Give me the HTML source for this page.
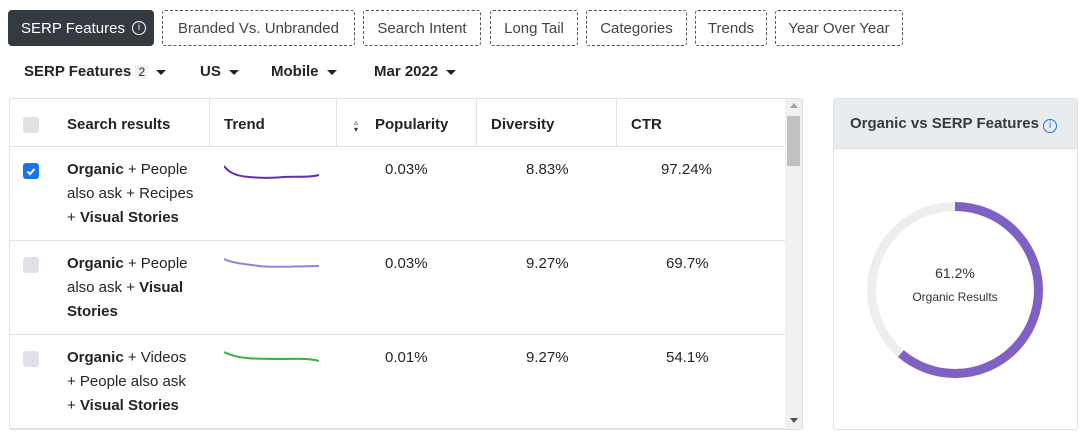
<!DOCTYPE html>
<html><head><style>
*{box-sizing:border-box;margin:0;padding:0}
body{width:1086px;height:439px;background:#fff;font-family:"Liberation Sans",sans-serif;color:#212529;position:relative;overflow:hidden}
.a{position:absolute}
.tab{position:absolute;top:10px;height:36px;border:1px dashed #555;border-radius:3px;font-size:15px;color:#444;display:flex;align-items:center;justify-content:center}
.dd{position:absolute;top:63px;font-size:15px;font-weight:bold;color:#212529}
.car{display:inline-block;border-left:5px solid transparent;border-right:5px solid transparent;border-top:5px solid #212529;vertical-align:middle;margin-left:8px}
.th{position:absolute;top:116px;font-size:15px;font-weight:bold}
.cell{position:absolute;font-size:15px;line-height:24px}
.vl{position:absolute;top:99px;height:48px;width:1px;background:#dee2e6}
.hl{position:absolute;left:10px;width:775px;height:1px;background:#dee2e6}
.cb{position:absolute;left:23px;width:16px;height:16px;border-radius:3px;background:#dee2e6}
</style></head><body>
<div class="a" style="left:8px;top:10px;width:146px;height:36px;background:#343a40;border-radius:4px;color:#fff;font-size:15px;display:flex;align-items:center;padding-left:13px">SERP Features <span style="display:inline-block;width:14px;height:14px;border:1px solid #fff;border-radius:50%;font-size:10px;text-align:center;line-height:12px;margin-left:7px">i</span></div>
<div class="tab" style="left:162px;width:193px">Branded Vs. Unbranded</div>
<div class="tab" style="left:363px;width:118px">Search Intent</div>
<div class="tab" style="left:490px;width:88px">Long Tail</div>
<div class="tab" style="left:586px;width:101px">Categories</div>
<div class="tab" style="left:695px;width:72px">Trends</div>
<div class="tab" style="left:775px;width:128px">Year Over Year</div>
<div class="dd" style="left:24px">SERP Features <span style="font-weight:normal;font-size:12px;background:#f1f3f5;padding:0 3px">2</span><span class="car"></span></div>
<div class="dd" style="left:200px">US<span class="car"></span></div>
<div class="dd" style="left:271px">Mobile<span class="car"></span></div>
<div class="dd" style="left:374px">Mar 2022<span class="car"></span></div>

<div class="a" style="left:9px;top:98px;width:794px;height:332px;border:1px solid #dee2e6;border-radius:3px"></div>
<div class="a" style="left:785px;top:99px;width:17px;height:330px;background:#f1f1f1"></div>
<div class="a" style="left:787px;top:116px;width:13px;height:50px;background:#c1c1c1"></div>
<div class="a" style="left:790px;top:103px;border-left:4px solid transparent;border-right:4px solid transparent;border-bottom:5px solid #a3a3a3"></div>
<div class="a" style="left:790px;top:418px;border-left:4px solid transparent;border-right:4px solid transparent;border-top:5px solid #505050"></div>
<div class="cb" style="top:117px"></div>
<div class="th" style="left:67px">Search results</div>
<div class="vl" style="left:209px"></div>
<div class="th" style="left:224px">Trend</div>
<div class="vl" style="left:336px"></div>
<div class="a" style="left:354px;top:119px;font-size:8px;line-height:7px;color:#333">▵<br>▾</div>
<div class="th" style="left:375px">Popularity</div>
<div class="vl" style="left:476px"></div>
<div class="th" style="left:491px">Diversity</div>
<div class="vl" style="left:616px"></div>
<div class="th" style="left:631px">CTR</div>
<div class="hl" style="top:146px"></div>
<div class="hl" style="top:240px"></div>
<div class="hl" style="top:334px"></div>
<div class="hl" style="top:428px"></div>

<div class="cb" style="top:163px;background:#1a73e8"><svg width="16" height="16" class="a"><path d="M4.5 8.5l2.5 2.5 4.5-5" stroke="#fff" stroke-width="2" fill="none"/></svg></div>
<div class="cell" style="left:67px;top:158px;width:130px"><b>Organic</b> + People also ask + Recipes + <b>Visual Stories</b></div>
<svg class="a" style="left:224px;top:160px" width="96" height="24"><path d="M0 6 C6 14,14 16,25 17 S50 18,60 17 S85 18,95 15" stroke="#5b2fb8" stroke-width="2" fill="none"/></svg>
<div class="cell" style="left:385px;top:158px">0.03%</div>
<div class="cell" style="left:526px;top:158px">8.83%</div>
<div class="cell" style="left:661px;top:158px">97.24%</div>

<div class="cb" style="top:257px"></div>
<div class="cell" style="left:67px;top:252px;width:130px"><b>Organic</b> + People also ask + <b>Visual Stories</b></div>
<svg class="a" style="left:224px;top:254px" width="96" height="20"><path d="M0 5 C8 9,20 10,35 12 S80 12,95 12" stroke="#9d7fe0" stroke-width="2" fill="none"/></svg>
<div class="cell" style="left:385px;top:252px">0.03%</div>
<div class="cell" style="left:526px;top:252px">9.27%</div>
<div class="cell" style="left:666px;top:252px">69.7%</div>

<div class="cb" style="top:351px"></div>
<div class="cell" style="left:67px;top:346px;width:130px"><b>Organic</b> + Videos + People also ask + <b>Visual Stories</b></div>
<svg class="a" style="left:224px;top:348px" width="96" height="20"><path d="M0 4 C6 7,12 9,22 10 S50 11,60 11 S85 10,95 13" stroke="#3cb043" stroke-width="2" fill="none"/></svg>
<div class="cell" style="left:385px;top:346px">0.01%</div>
<div class="cell" style="left:526px;top:346px">9.27%</div>
<div class="cell" style="left:666px;top:346px">54.1%</div>

<div class="a" style="left:833px;top:98px;width:245px;height:332px;border:1px solid #dee2e6;border-radius:3px;overflow:hidden">
<div style="height:50px;background:#e9ecef;border-bottom:1px solid #dee2e6;font-size:15px;font-weight:bold;padding:16px 0 0 16px;color:#343a40">Organic vs SERP Features <span style="display:inline-block;width:14px;height:14px;border:1px solid #1a73e8;color:#1a73e8;border-radius:50%;font-size:10px;text-align:center;line-height:12px;font-weight:normal">i</span></div>
</div>
<svg class="a" style="left:833px;top:160px" width="245" height="260">
<circle cx="122" cy="130" r="83.5" stroke="#eeeeee" stroke-width="9" fill="none"/>
<circle cx="122" cy="130" r="83.5" stroke="#8160c3" stroke-width="9" fill="none" stroke-dasharray="321.1 600" transform="rotate(-90 122 130)"/>
<text x="122" y="118" text-anchor="middle" font-size="14" fill="#333" font-family="Liberation Sans">61.2%</text>
<text x="122" y="141" text-anchor="middle" font-size="12" fill="#333" font-family="Liberation Sans">Organic Results</text>
</svg>
</body></html>
